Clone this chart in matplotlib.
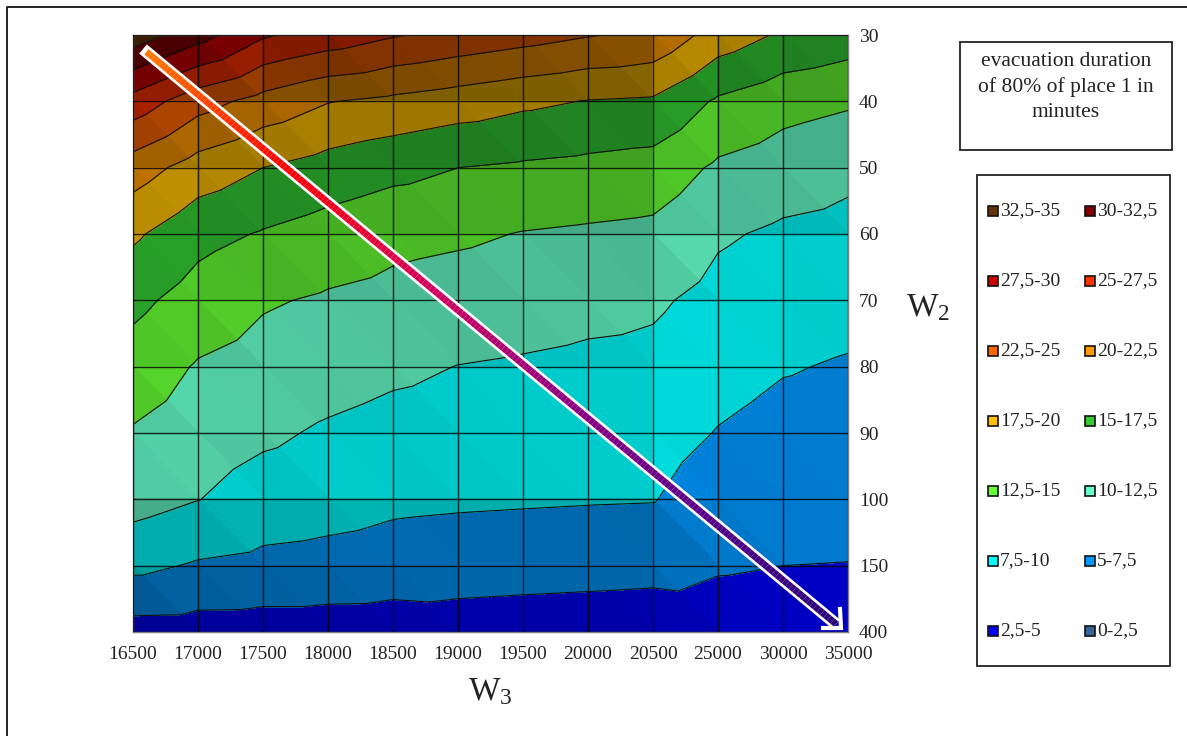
import numpy as np
import matplotlib
matplotlib.use("Agg")
import matplotlib.pyplot as plt
from matplotlib.tri import Triangulation
from matplotlib.collections import LineCollection
from matplotlib.patches import Rectangle
from matplotlib.colors import to_rgb, LinearSegmentedColormap

plt.rcParams['font.family'] = ['Liberation Serif', 'DejaVu Serif']
plt.rcParams['mathtext.fontset'] = 'custom'
plt.rcParams['mathtext.rm'] = 'Liberation Serif'
plt.rcParams['mathtext.default'] = 'rm'

w3_labels = ['16500', '17000', '17500', '18000', '18500', '19000', '19500', '20000', '20500', '25000', '30000', '35000']
w2_labels = ['30', '40', '50', '60', '70', '80', '90', '100', '150', '400']

# evacuation duration in minutes, one row per W2, one column per W3
row_30 = [33.9, 31.0, 27.8, 26.5, 25.2, 24.3, 23.5, 22.65, 22.0, 18.9, 17.15, 16.3]
row_40 = [26.5, 23.5, 21.6, 20.1, 19.45, 18.75, 18.0, 17.4, 17.15, 14.65, 13.4, 12.8]
row_50 = [21.25, 18.9, 17.5, 16.5, 15.7, 15.0, 14.65, 14.35, 14.0, 12.1, 11.25, 10.6]
row_60 = [17.9, 15.8, 14.8, 13.95, 13.2, 12.88, 12.4, 12.15, 11.9, 10.3, 9.6, 9.25]
row_70 = [15.66, 13.9, 12.75, 12.2, 11.75, 11.36, 11.05, 10.7, 10.37, 9.25, 8.6, 8.3]
row_80 = [13.87, 12.3, 11.57, 11.0, 10.45, 9.96, 9.75, 9.5, 9.35, 8.33, 7.65, 7.3]
row_90 = [12.3, 11.2, 10.4, 9.7, 9.2, 8.93, 8.76, 8.6, 8.47, 7.4, 6.75, 6.55]
row_100 = [11.0, 10.05, 9.0, 8.6, 8.05, 7.88, 7.77, 7.67, 7.6, 6.3, 5.85, 5.75]
row_150 = [8.1, 7.25, 6.85, 6.6, 6.25, 6.02, 5.9, 5.8, 5.68, 5.2, 5.0, 4.95]
row_400 = [4.0, 3.9, 3.85, 3.85, 3.8, 3.97, 3.85, 3.75, 3.65, 3.9, 3.85, 3.8]

levels = [0, 2.5, 5, 7.5, 10, 12.5, 15, 17.5, 20, 22.5, 25, 27.5, 30, 32.5, 35]
band_labels = ['0-2,5', '2,5-5', '5-7,5', '7,5-10', '10-12,5', '12,5-15', '15-17,5', '17,5-20',
               '20-22,5', '22,5-25', '25-27,5', '27,5-30', '30-32,5', '32,5-35']
band_colors = ['#336699', '#0000FF', '#0099FF', '#00FFFF', '#66FFCC', '#66FF33', '#33CC33', '#FFC000',
               '#FF9900', '#FF6600', '#FF3300', '#CC0000', '#800000', '#663300']
legend_col1 = [13, 11, 9, 7, 5, 3, 1]
legend_col2 = [12, 10, 8, 6, 4, 2, 0]

Z = np.array([row_30, row_40, row_50, row_60, row_70, row_80, row_90, row_100, row_150, row_400])
ny, nx = Z.shape

W, H = 1187, 736
fig = plt.figure(figsize=(W / 100, H / 100), dpi=100, facecolor='white')
L, R, T, B = 133, 848, 35, 632
ax = fig.add_axes([L / W, 1 - B / H, (R - L) / W, (B - T) / H])
ax.set_xlim(0, nx - 1)
ax.set_ylim(ny - 1, 0)

XX, YY = np.meshgrid(np.arange(nx), np.arange(ny))
xf, yf, zf = XX.ravel(), YY.ravel(), Z.ravel()


def raw_shade(tri):
    a = np.c_[xf[tri], yf[tri], np.ones(3)]
    gx, gy, _ = np.linalg.solve(a, zf[tri])
    base = np.interp(abs(gy), [0, 1, 1.5, 2, 3.75, 5.5, 8], [0.88, 0.78, 0.70, 0.66, 0.58, 0.45, 0.38])
    return float(base + 0.06 * abs(gx))


triangles = []
for j in range(ny - 1):
    for i in range(nx - 1):
        tl, tr = j * nx + i, j * nx + i + 1
        bl, br = (j + 1) * nx + i, (j + 1) * nx + i + 1
        pair = ([tl, tr, br], [tl, bl, br])
        shades = [raw_shade(np.array(p)) for p in pair]
        mean = sum(shades) / 2
        for p, s in zip(pair, shades):
            triangles.append(p)
            f = float(np.clip(mean + 0.5 * (s - mean), 0.3, 1.0))
            cols = [tuple(c * f for c in to_rgb(b)) for b in band_colors]
            idx = np.array(p)
            t1 = Triangulation(xf[idx], yf[idx], [[0, 1, 2]])
            cs = ax.tricontourf(t1, zf[idx], levels=levels, colors=cols, zorder=1)
            cs.set_edgecolor('face')
            cs.set_linewidth(0.5)

full = Triangulation(xf, yf, np.array(triangles))
ax.tricontour(full, zf, levels=levels[1:-1], colors='#101010', linewidths=0.8, zorder=2)

ax.set_xticks(np.arange(nx), w3_labels)
ax.set_yticks(np.arange(ny), w2_labels)
ax.yaxis.tick_right()
ax.grid(True, color='black', linewidth=1.0, alpha=0.8, zorder=3)
ax.set_axisbelow(False)
ax.tick_params(length=0, labelsize=14, labelcolor='#222222')
ax.tick_params(axis='x', pad=10)
ax.tick_params(axis='y', pad=8)
for s in ax.spines.values():
    s.set_color('#808080')
    s.set_linewidth(1.0)

ov = fig.add_axes([0, 0, 1, 1], facecolor='none')
ov.set_xlim(0, W)
ov.set_ylim(H, 0)
ov.axis('off')

# page frame: left and top only
ov.plot([7, 7, 1187], [736, 7, 7], color='#222222', lw=1.4, clip_on=False)

# arrow: white casing, gradient core running along its centre line
x0, y0, x1, y1 = 143, 49, 836, 624
ov.plot([x0, x1], [y0, y1], color='white', lw=8.6, solid_capstyle='butt', zorder=5)
ov.plot([823, 841, 840], [628, 628, 609], color='white', lw=3.0, solid_joinstyle='miter', zorder=5)
cmap = LinearSegmentedColormap.from_list('arrow', [(0, '#FF7A00'), (0.2, '#FF0000'), (0.42, '#D00060'),
                                                   (0.6, '#900080'), (0.8, '#5A0088'), (1, '#28007A')])
t = np.linspace(0.005, 1, 200)
px = x0 + (x1 - x0) * t
py = y0 + (y1 - y0) * t
segs = np.stack([np.c_[px[:-1], py[:-1]], np.c_[px[1:], py[1:]]], axis=1)
ov.add_collection(LineCollection(segs, colors=cmap(t[:-1]), linewidths=4.8, capstyle='butt', zorder=6))

# title box
ov.add_patch(Rectangle((960, 42), 212, 108, fc='white', ec='#222222', lw=1.3))
ov.text(1066, 87, 'evacuation duration\nof 80% of place 1 in\nminutes', ha='center', va='center',
        fontsize=15.5, color='#222222', linespacing=1.4)

# legend box
ov.add_patch(Rectangle((977, 175), 193, 491, fc='white', ec='#222222', lw=1.3))
rows_y = [211, 281, 351, 421, 491, 561, 631]
for col_x, ids in ((988, legend_col1), (1085, legend_col2)):
    for yy, idx in zip(rows_y, ids):
        ov.add_patch(Rectangle((col_x, yy - 5), 10, 10, fc=band_colors[idx], ec='#111111', lw=1.2))
        ov.text(col_x + 12, yy, band_labels[idx], ha='left', va='center', fontsize=14, color='#222222')

ov.text(928, 308, r'W$_{2}$', ha='center', va='center', fontsize=24, color='#222222')
ov.text(490, 692, r'W$_{3}$', ha='center', va='center', fontsize=24, color='#222222')

fig.savefig('out.png', dpi=100, facecolor='white')
